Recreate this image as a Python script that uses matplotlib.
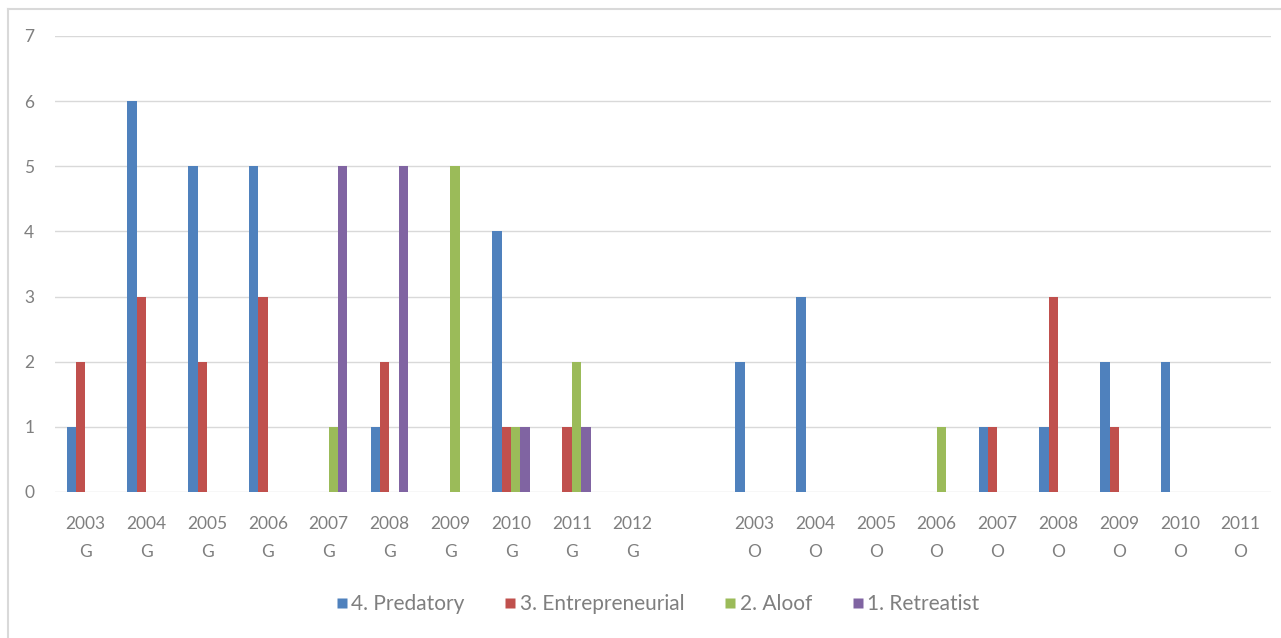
import matplotlib
matplotlib.use("Agg")
import matplotlib.pyplot as plt
from matplotlib.lines import Line2D
import numpy as np

categories = ["2003\nG", "2004\nG", "2005\nG", "2006\nG", "2007\nG", "2008\nG", "2009\nG",
              "2010\nG", "2011\nG", "2012\nG", "",
              "2003\nO", "2004\nO", "2005\nO", "2006\nO", "2007\nO", "2008\nO", "2009\nO",
              "2010\nO", "2011\nO"]
predatory      = [1, 6, 5, 5, 0, 1, 0, 4, 0, 0, 0, 2, 3, 0, 0, 1, 1, 2, 2, 0]
entrepreneurial = [2, 3, 2, 3, 0, 2, 0, 1, 1, 0, 0, 0, 0, 0, 0, 1, 3, 1, 0, 0]
aloof          = [0, 0, 0, 0, 1, 0, 5, 1, 2, 0, 0, 0, 0, 0, 1, 0, 0, 0, 0, 0]
retreatist     = [0, 0, 0, 0, 5, 5, 0, 1, 1, 0, 0, 0, 0, 0, 0, 0, 0, 0, 0, 0]
series_names = ["4. Predatory", "3. Entrepreneurial", "2. Aloof", "1. Retreatist"]
colors = ["#4F81BD", "#C0504D", "#9BBB59", "#8064A2"]
yticks = [0, 1, 2, 3, 4, 5, 6, 7]

plt.rcParams['font.family'] = ['Lato', 'DejaVu Sans']

fig = plt.figure(figsize=(12.81, 6.38), dpi=100)
ax = fig.add_axes([55/1281, 1-492/638, (1271-55)/1281, (492-36)/638])

x = np.arange(len(categories))
w = 0.155
data = [predatory, entrepreneurial, aloof, retreatist]
for i, (vals, c) in enumerate(zip(data, colors)):
    ax.bar(x + (i - 1.5) * w, vals, width=w, color=c, zorder=3, linewidth=0)

ax.set_xlim(-0.5, len(categories) - 0.5)
ax.set_ylim(0, 7)
ax.set_yticks(yticks)
ax.set_xticks(x)
ax.set_xticklabels(categories, linespacing=1.95)
ax.grid(axis='y', color='#D9D9D9', linewidth=1.0, zorder=0)
for s in ax.spines.values():
    s.set_visible(False)
ax.tick_params(axis='both', length=0, colors='#7F7F7F', labelsize=12.5)
ax.tick_params(axis='x', pad=17)
ax.tick_params(axis='y', pad=15)

handles = [Line2D([], [], marker='s', linestyle='none', markersize=7,
                  markerfacecolor=c, markeredgecolor='none') for c in colors]
fig.legend(handles, series_names, loc='center', bbox_to_anchor=(658/1281, 1-604/638),
           ncol=4, frameon=False, fontsize=15, labelcolor='#7F7F7F',
           handlelength=0.5, handletextpad=0.2, columnspacing=1.95)

fig.add_artist(Line2D([8/1281, 1.0], [1-9/638, 1-9/638], color='#D9D9D9', linewidth=1.5))
fig.add_artist(Line2D([8/1281, 8/1281], [0.0, 1-9/638], color='#D9D9D9', linewidth=1.5))

fig.savefig("out.png", dpi=100)
